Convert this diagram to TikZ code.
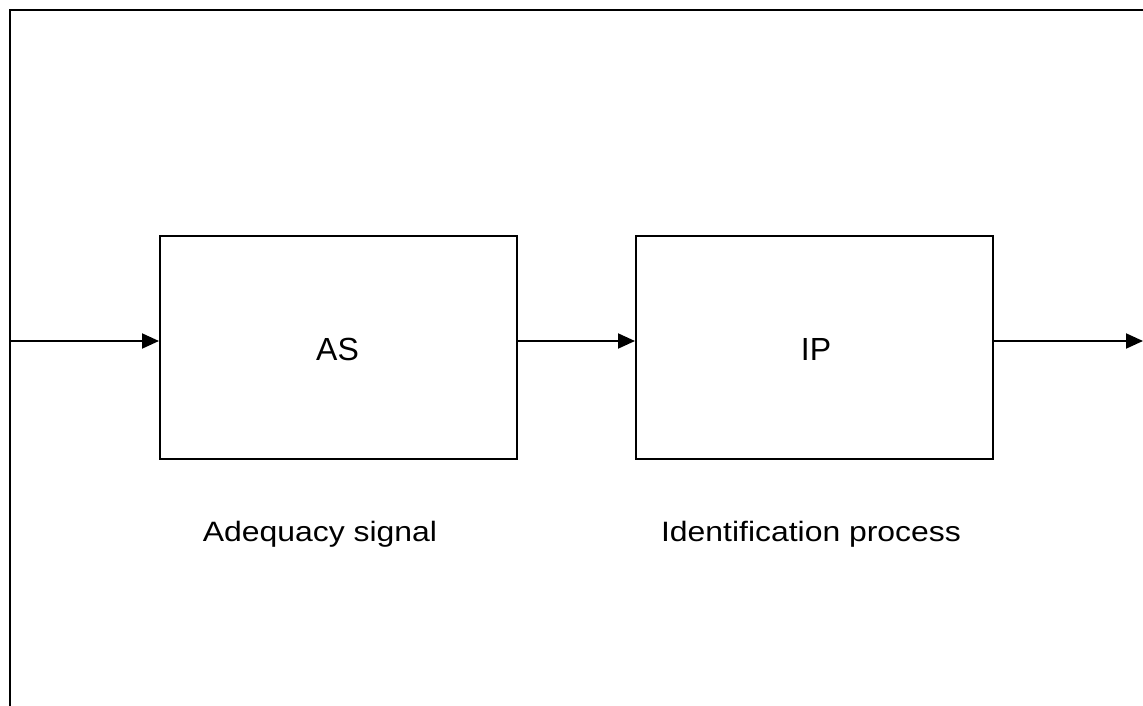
\documentclass[tikz,border=0pt]{standalone}
\usepackage{fontspec}
\setmainfont{Liberation Sans}
\newfontfamily\widesans[FakeStretch=1.14]{Liberation Sans}
\usetikzlibrary{arrows.meta}
\begin{document}
\begin{tikzpicture}[x=1pt,y=-1pt,
  block/.style={draw=black,line width=2pt,minimum width=357pt,minimum height=223pt,inner sep=0pt,anchor=north west},
  flow/.style={line width=2pt,-{Triangle[length=17pt,width=15pt]}},
  frameline/.style={line width=2pt},
  boxtxt/.style={font=\fontsize{32}{38}\selectfont,anchor=base},
  lbl/.style={font=\widesans\fontsize{28}{34}\selectfont,anchor=base}]
\useasboundingbox (0,0) rectangle (1143,706);
\fill[white] (0,0) rectangle (1143,706);
\draw[frameline] (10,706) -- (10,10) -- (1143,10);
\node[block] (as) at (159,235) {};
\node[block] (ip) at (635,235) {};
\node[boxtxt] (astxt) at (337.5,360) {AS};
\node[boxtxt] (iptxt) at (816,360) {IP};
\node[lbl] (asl) at (320,541) {Adequacy signal};
\node[lbl] (ipl) at (811,541) {Identification process};
\coordinate (in) at (10,341);
\coordinate (out) at (1143,341);
\draw[flow] (in) -- (in -| as.west);
\draw[flow] (as.east |- 0,341) -- (ip.west |- 0,341);
\draw[flow] (ip.east |- 0,341) -- (out);
\end{tikzpicture}
\end{document}
